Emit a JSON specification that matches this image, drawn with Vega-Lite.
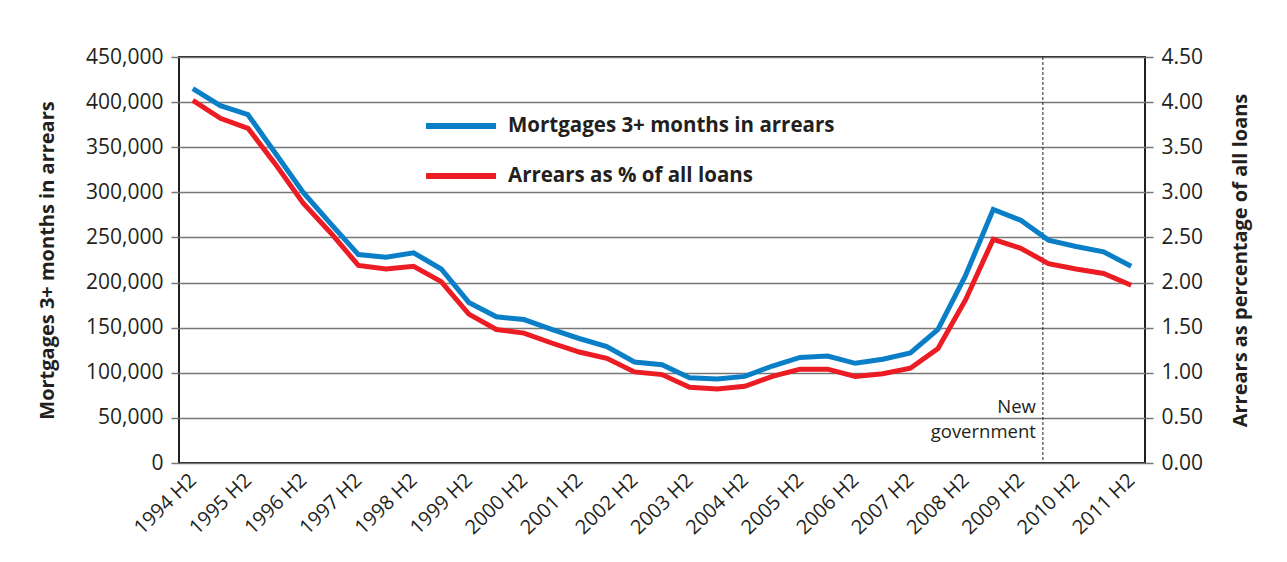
{
  "$schema": "https://vega.github.io/schema/vega-lite/v6.json",
  "width": 966,
  "height": 406,
  "autosize": {"type": "none"},
  "padding": {"left": 179, "top": 57, "right": 142, "bottom": 99},
  "background": "white",
  "config": {
    "font": "Open Sans",
    "view": {"stroke": "#231f20", "strokeWidth": 2},
    "axis": {
      "labelFont": "Open Sans",
      "labelFontSize": 21,
      "labelColor": "#231f20",
      "titleFont": "Open Sans",
      "titleFontSize": 20,
      "titleFontWeight": "bold",
      "titleColor": "#231f20",
      "gridColor": "#777777",
      "gridWidth": 1.5,
      "gridOpacity": 1,
      "tickColor": "#777777",
      "tickSize": 8,
      "tickWidth": 1.5,
      "domain": false
    },
    "legend": {
      "labelFont": "Open Sans"
    }
  },
  "data": {
    "values": [
      {"period": "1994 H2", "t": 1994.5, "mortgages": 415000, "pct": 4.02},
      {"period": "1995 H1", "t": 1995.0, "mortgages": 396000, "pct": 3.82},
      {"period": "1995 H2", "t": 1995.5, "mortgages": 386000, "pct": 3.71},
      {"period": "1996 H1", "t": 1996.0, "mortgages": 343000, "pct": 3.31},
      {"period": "1996 H2", "t": 1996.5, "mortgages": 300000, "pct": 2.88},
      {"period": "1997 H1", "t": 1997.0, "mortgages": 265000, "pct": 2.55},
      {"period": "1997 H2", "t": 1997.5, "mortgages": 231000, "pct": 2.19},
      {"period": "1998 H1", "t": 1998.0, "mortgages": 228000, "pct": 2.15},
      {"period": "1998 H2", "t": 1998.5, "mortgages": 233000, "pct": 2.18},
      {"period": "1999 H1", "t": 1999.0, "mortgages": 215000, "pct": 2.01},
      {"period": "1999 H2", "t": 1999.5, "mortgages": 178000, "pct": 1.65},
      {"period": "2000 H1", "t": 2000.0, "mortgages": 162000, "pct": 1.48},
      {"period": "2000 H2", "t": 2000.5, "mortgages": 159000, "pct": 1.44},
      {"period": "2001 H1", "t": 2001.0, "mortgages": 148000, "pct": 1.33},
      {"period": "2001 H2", "t": 2001.5, "mortgages": 138000, "pct": 1.23},
      {"period": "2002 H1", "t": 2002.0, "mortgages": 129000, "pct": 1.16},
      {"period": "2002 H2", "t": 2002.5, "mortgages": 112000, "pct": 1.01},
      {"period": "2003 H1", "t": 2003.0, "mortgages": 109000, "pct": 0.98},
      {"period": "2003 H2", "t": 2003.5, "mortgages": 94500, "pct": 0.84},
      {"period": "2004 H1", "t": 2004.0, "mortgages": 93000, "pct": 0.82},
      {"period": "2004 H2", "t": 2004.5, "mortgages": 96000, "pct": 0.85},
      {"period": "2005 H1", "t": 2005.0, "mortgages": 107500, "pct": 0.96},
      {"period": "2005 H2", "t": 2005.5, "mortgages": 117000, "pct": 1.04},
      {"period": "2006 H1", "t": 2006.0, "mortgages": 118500, "pct": 1.04},
      {"period": "2006 H2", "t": 2006.5, "mortgages": 110500, "pct": 0.96},
      {"period": "2007 H1", "t": 2007.0, "mortgages": 115000, "pct": 0.99},
      {"period": "2007 H2", "t": 2007.5, "mortgages": 122000, "pct": 1.05},
      {"period": "2008 H1", "t": 2008.0, "mortgages": 148000, "pct": 1.27},
      {"period": "2008 H2", "t": 2008.5, "mortgages": 208000, "pct": 1.81},
      {"period": "2009 H1", "t": 2009.0, "mortgages": 281000, "pct": 2.48},
      {"period": "2009 H2", "t": 2009.5, "mortgages": 269000, "pct": 2.38},
      {"period": "2010 H1", "t": 2010.0, "mortgages": 247000, "pct": 2.21},
      {"period": "2010 H2", "t": 2010.5, "mortgages": 240000, "pct": 2.15},
      {"period": "2011 H1", "t": 2011.0, "mortgages": 234000, "pct": 2.10},
      {"period": "2011 H2", "t": 2011.5, "mortgages": 218000, "pct": 1.97}
    ]
  },
  "layer": [
    {
      "layer": [
        {
          "data": {"values": [{"t": 2009.9}]},
          "mark": {"type": "rule", "strokeDash": [3, 2], "color": "#231f20", "strokeWidth": 1},
          "encoding": {
            "x": {"field": "t", "type": "quantitative", "scale": {"domain": [1994.25, 2011.75], "nice": false, "zero": false}}
          }
        },
        {
          "data": {"values": [
            {"t": 2009.9, "mortgages": 62000, "label": "New"},
            {"t": 2009.9, "mortgages": 34500, "label": "government"}
          ]},
          "mark": {"type": "text", "align": "right", "baseline": "middle", "dx": -7, "fontSize": 18.5, "color": "#231f20", "font": "Open Sans"},
          "encoding": {
            "x": {"field": "t", "type": "quantitative", "scale": {"domain": [1994.25, 2011.75], "nice": false, "zero": false}},
            "y": {"field": "mortgages", "type": "quantitative", "scale": {"domain": [0, 450000], "nice": false}},
            "text": {"field": "label"}
          }
        },
        {
          "mark": {"type": "line", "strokeWidth": 5, "strokeJoin": "miter"},
          "encoding": {
            "x": {
              "field": "t",
              "type": "quantitative",
              "scale": {"domain": [1994.25, 2011.75], "nice": false, "zero": false},
              "axis": {
                "values": [1994.5, 1995.5, 1996.5, 1997.5, 1998.5, 1999.5, 2000.5, 2001.5, 2002.5, 2003.5, 2004.5, 2005.5, 2006.5, 2007.5, 2008.5, 2009.5, 2010.5, 2011.5],
                "labelExpr": "floor(datum.value) + ' H2'",
                "labelAngle": -44,
                "labelAlign": "right",
                "labelBaseline": "middle",
                "labelFontSize": 20,
                "labelPadding": 14,
                "labelOverlap": false,
                "labelBound": false,
                "ticks": false,
                "grid": false,
                "title": null
              }
            },
            "y": {
              "field": "mortgages",
              "type": "quantitative",
              "scale": {"domain": [0, 450000], "nice": false},
              "axis": {
                "values": [0, 50000, 100000, 150000, 200000, 250000, 300000, 350000, 400000, 450000],
                "labelExpr": "format(datum.value, ',')",
                "title": "Mortgages 3+ months in arrears",
                "titlePadding": 28,
                "labelPadding": 8,
                "grid": true
              }
            },
            "color": {
              "datum": "Mortgages 3+ months in arrears",
              "type": "nominal",
              "scale": {"domain": ["Mortgages 3+ months in arrears", "Arrears as % of all loans"], "range": ["#0a7fc8", "#ec1c24"]},
              "legend": {
                "orient": "none",
                "legendX": 244,
                "legendY": 31,
                "title": null,
                "symbolType": "stroke",
                "symbolSize": 4900,
                "symbolStrokeWidth": 6,
                "labelFontSize": 20.5,
                "labelFontWeight": "bold",
                "labelColor": "#231f20",
                "labelOffset": 9,
                "labelLimit": 500,
                "rowPadding": -14
              }
            }
          }
        }
      ]
    },
    {
      "mark": {"type": "line", "strokeWidth": 5, "strokeJoin": "miter"},
      "encoding": {
        "x": {"field": "t", "type": "quantitative", "scale": {"domain": [1994.25, 2011.75], "nice": false, "zero": false}},
        "y": {
          "field": "pct",
          "type": "quantitative",
          "scale": {"domain": [0, 4.5], "nice": false},
          "axis": {
            "orient": "right",
            "values": [0, 0.5, 1, 1.5, 2, 2.5, 3, 3.5, 4, 4.5],
            "format": ".2f",
            "title": "Arrears as percentage of all loans",
            "titleAngle": 270,
            "titlePadding": 48,
            "labelPadding": 8,
            "grid": false
          }
        },
        "color": {
          "datum": "Arrears as % of all loans",
          "type": "nominal",
          "scale": {"domain": ["Mortgages 3+ months in arrears", "Arrears as % of all loans"], "range": ["#0a7fc8", "#ec1c24"]}
        }
      }
    }
  ],
  "resolve": {"scale": {"y": "independent"}}
}
